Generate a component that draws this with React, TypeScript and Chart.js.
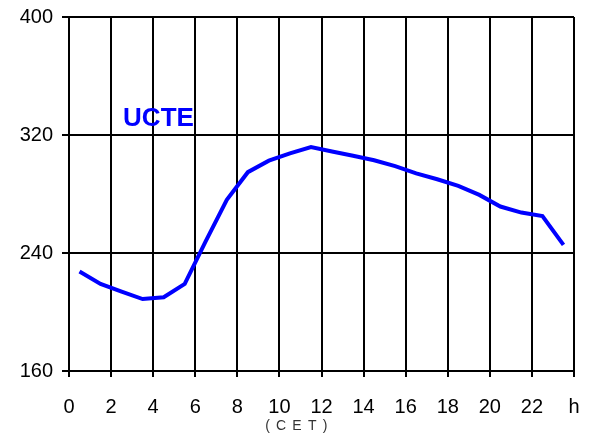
import React, { useEffect, useRef } from "react";
import { Chart, registerables } from "chart.js";

Chart.register(...registerables);

const hours: number[] = [0.5, 1.5, 2.5, 3.5, 4.5, 5.5, 6.5, 7.5, 8.5, 9.5, 10.5, 11.5, 12.5, 13.5, 14.5, 15.5, 16.5, 17.5, 18.5, 19.5, 20.5, 21.5, 22.5, 23.5];
const ucteLoad: number[] = [227.4, 219.0, 213.8, 208.8, 210.0, 219.0, 248.0, 276.0, 294.8, 302.6, 307.5, 311.8, 308.8, 305.9, 302.9, 298.9, 294.0, 290.0, 285.5, 279.4, 271.5, 267.4, 265.0, 245.5];
const seriesLabel = "UCTE";
const xUnitLabel = "h";
const xAxisNote = "(CET)";
const yMin = 160;
const yMax = 400;
const yStep = 80;
const xMin = 0;
const xMax = 24;
const xStep = 2;

const FONT = "'Liberation Sans', Arial, Helvetica, sans-serif";

const textPlugin = {
  id: "textPlugin",
  afterDraw(chart: any) {
    const { ctx, scales, chartArea } = chart;
    const xs = scales.x;
    const ys = scales.y;
    ctx.save();
    ctx.font = `bold 26px ${FONT}`;
    ctx.fillStyle = "#0000ff";
    ctx.textAlign = "left";
    ctx.textBaseline = "alphabetic";
    ctx.fillText(seriesLabel, xs.getPixelForValue(2.57), ys.getPixelForValue(326.2));

    ctx.font = `14px ${FONT}`;
    ctx.fillStyle = "#333333";
    ctx.textBaseline = "middle";
    const chars = xAxisNote.split("");
    const gap = 6.2;
    const widths = chars.map((c) => ctx.measureText(c).width);
    const total = widths.reduce((a, b) => a + b, 0) + gap * (chars.length - 1);
    let cx = xs.getPixelForValue(10.8) - total / 2;
    const cy = chartArea.bottom + 55;
    chars.forEach((c, i) => {
      ctx.fillText(c, cx, cy);
      cx += widths[i] + gap;
    });
    ctx.restore();
  },
};

export default function App() {
  const canvasRef = useRef<HTMLCanvasElement | null>(null);

  useEffect(() => {
    if (!canvasRef.current) return;
    const chart = new Chart(canvasRef.current, {
      type: "line",
      data: {
        datasets: [
          {
            label: seriesLabel,
            data: hours.map((h, i) => ({ x: h, y: ucteLoad[i] })),
            borderColor: "#0000ff",
            borderWidth: 4,
            pointRadius: 0,
            tension: 0,
            fill: false,
          },
        ],
      },
      options: {
        animation: false,
        responsive: false,
        devicePixelRatio: 1,
        layout: { padding: { top: 17, right: 21, left: 0, bottom: 0 } },
        plugins: {
          legend: { display: false },
          tooltip: { enabled: false },
          title: { display: false },
        },
        scales: {
          x: {
            type: "linear",
            min: xMin,
            max: xMax,
            afterFit: (scale: any) => {
              scale.height = 64;
              scale.paddingLeft = 0;
              scale.paddingRight = 0;
            },
            grid: {
              color: "#000000",
              lineWidth: 2,
              tickLength: 6,
              drawTicks: true,
            },
            border: { color: "#000000", width: 2 },
            ticks: {
              stepSize: xStep,
              autoSkip: false,
              maxRotation: 0,
              padding: 18,
              color: "#000000",
              font: { family: FONT, size: 20 },
              callback: (v: any) => (Number(v) === xMax ? xUnitLabel : String(v)),
            },
          },
          y: {
            type: "linear",
            min: yMin,
            max: yMax,
            afterFit: (scale: any) => {
              scale.width = 69;
              scale.paddingTop = 0;
              scale.paddingBottom = 0;
            },
            grid: {
              color: "#000000",
              lineWidth: 2,
              tickLength: 7,
            },
            border: { color: "#000000", width: 2 },
            ticks: {
              stepSize: yStep,
              padding: 9,
              color: "#000000",
              font: { family: FONT, size: 20 },
            },
          },
        },
      },
      plugins: [textPlugin],
    } as any);
    return () => chart.destroy();
  }, []);

  return (
    <div style={{ position: "fixed", left: 0, top: 0, width: 595, height: 435, background: "#ffffff" }}>
      <canvas ref={canvasRef} width={595} height={435} style={{ display: "block" }} />
    </div>
  );
}
